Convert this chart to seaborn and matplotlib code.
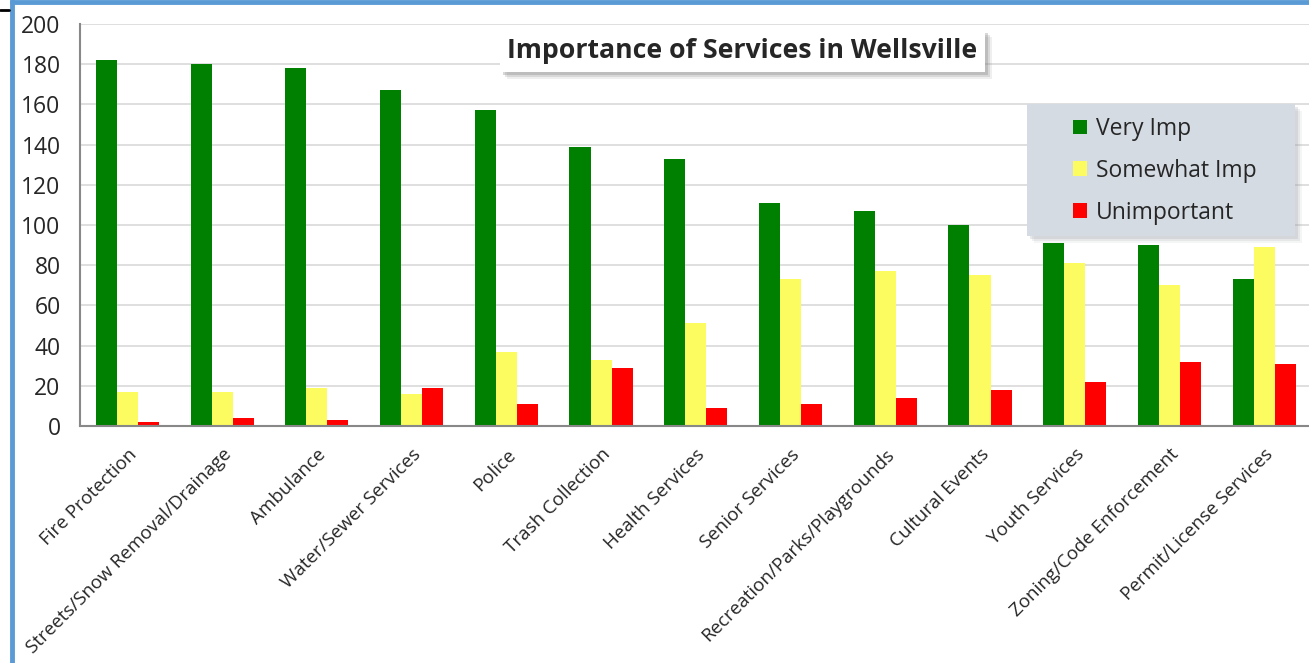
import matplotlib
matplotlib.use('Agg')
import matplotlib.pyplot as plt
import seaborn as sns
import pandas as pd
from matplotlib.patches import Rectangle
from matplotlib.lines import Line2D

services = ['Fire Protection', 'Streets/Snow Removal/Drainage', 'Ambulance',
            'Water/Sewer Services', 'Police', 'Trash Collection', 'Health Services',
            'Senior Services', 'Recreation/Parks/Playgrounds', 'Cultural Events',
            'Youth Services', 'Zoning/Code Enforcement', 'Permit/License Services']
very_imp = [182, 180, 178, 167, 157, 139, 133, 111, 107, 100, 91, 90, 73]
somewhat_imp = [17, 17, 19, 16, 37, 33, 51, 73, 77, 75, 81, 70, 89]
unimportant = [2, 4, 3, 19, 11, 29, 9, 11, 14, 18, 22, 32, 31]
series = ['Very Imp', 'Somewhat Imp', 'Unimportant']
colors = ['#008000', '#fcfc60', '#ff0000']

df = pd.DataFrame({
    'service': services * 3,
    'count': very_imp + somewhat_imp + unimportant,
    'level': [s for s in series for _ in services],
})

sns.set_style('white')
plt.rcParams['font.family'] = ['Open Sans', 'DejaVu Sans']

W, H = 1309, 663
fig = plt.figure(figsize=(W / 100, H / 100), dpi=100)
ax = fig.add_axes([80 / W, 1 - 426 / H, 1 - 80 / W + 0.002, (426 - 24) / H])


def px_rect(x0, y0, x1, y1, **kw):
    # rectangle given in image pixels (origin top-left), drawn on the axes
    r = Rectangle((x0 / W, 1 - y1 / H), (x1 - x0) / W, (y1 - y0) / H,
                  transform=fig.transFigure, clip_on=False, **kw)
    ax.add_artist(r)
    return r


sns.barplot(data=df, x='service', y='count', hue='level', palette=colors,
            width=0.667, gap=0, saturation=1, linewidth=0, ax=ax, legend=True)

ax.set_ylim(0, 200)
ax.set_xlim(-0.5, len(services) - 0.5)
ax.set_yticks(range(0, 201, 20))
ax.yaxis.grid(True, color='#d9d9d9', lw=1.2)
ax.set_axisbelow(True)
ax.set_xlabel('')
ax.set_ylabel('')

for s in ['top', 'right']:
    ax.spines[s].set_visible(False)
for s in ['left', 'bottom']:
    ax.spines[s].set_color('#888888')
    ax.spines[s].set_linewidth(1.5)

ax.tick_params(axis='y', labelsize=16.5, length=6, color='#888888', width=1.5, pad=8)
ax.set_xticks(range(len(services)))
ax.set_xticklabels(services, rotation=45, ha='right', rotation_mode='anchor', fontsize=13.5)
ax.tick_params(axis='x', length=0, pad=14)
ax.set_xticks([i - 0.5 for i in range(len(services) + 1)], minor=True)
ax.tick_params(axis='x', which='minor', length=7, color='#888888', width=1.5)

# legend: box + soft shadow drawn by hand, entries from the bars
for k, a in enumerate([0.22, 0.15, 0.1]):
    d = 3 + 2 * k
    px_rect(1027 + d, 104 + d, 1295 + d, 236 + d, facecolor='#9a9ea6',
            edgecolor='none', alpha=a, zorder=6)
px_rect(1027, 104, 1295, 236, facecolor='#d5dbe3', edgecolor='none', zorder=6.5)
handles, labels = ax.get_legend_handles_labels()
leg = ax.legend(handles, labels, loc='upper left',
                bbox_to_anchor=(1073 / W, 1 - 117 / H), bbox_transform=fig.transFigure,
                fontsize=16.5, frameon=False, handlelength=0.62, handleheight=0.62,
                labelspacing=0.78, borderpad=0, handletextpad=0.4, borderaxespad=0)
leg.set_zorder(7)

# title box with shadow
for k, a in enumerate([0.3, 0.2, 0.12]):
    d = 3 + 2 * k
    px_rect(500 + d, 30 + d, 985 + d, 72 + d, facecolor='#7f7f7f',
            edgecolor='none', alpha=a, zorder=6)
px_rect(500, 30, 985, 72, facecolor='white', edgecolor='none', zorder=6.5)
ax.text(742 / W, 1 - 51 / H, 'Importance of Services in Wellsville',
        transform=fig.transFigure, ha='center', va='center', fontsize=19.2,
        fontweight='bold', zorder=7)

# blue chart border
fig.add_artist(Line2D([11.5 / W, 11.5 / W], [0, 1], color='#5b9bd5', lw=3.5))
fig.add_artist(Line2D([11.5 / W, 1], [1 - 1.5 / H, 1 - 1.5 / H], color='#5b9bd5', lw=3.5))
fig.add_artist(Line2D([0, 9 / W], [1 - 10 / H, 1 - 10 / H], color='black', lw=2))

fig.savefig('out.png', dpi=100)
